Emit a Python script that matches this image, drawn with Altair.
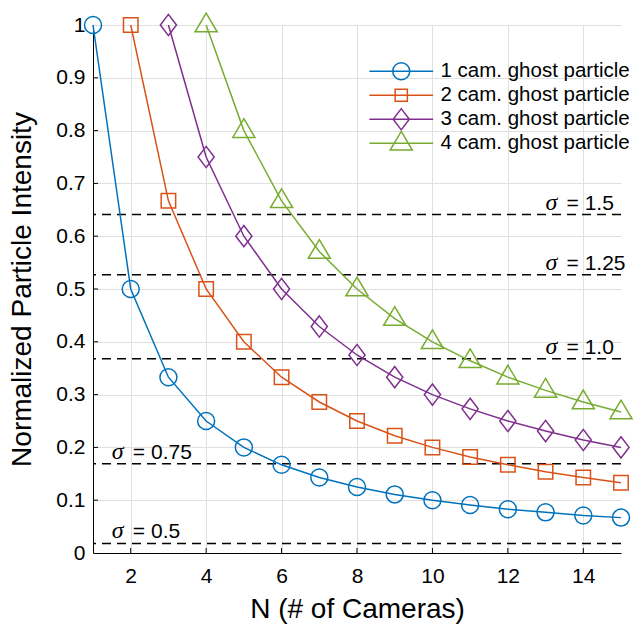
import altair as alt
import pandas as pd

series_names = ["1 cam. ghost particle", "2 cam. ghost particle",
                "3 cam. ghost particle", "4 cam. ghost particle"]
n_1 = list(range(1, 16))
v_1 = [1, 0.5, 0.333, 0.25, 0.2, 0.167, 0.143, 0.125, 0.111, 0.1, 0.091, 0.083, 0.077, 0.071, 0.067]
n_2 = list(range(2, 16))
v_2 = [1, 0.667, 0.5, 0.4, 0.333, 0.286, 0.25, 0.222, 0.2, 0.182, 0.167, 0.154, 0.143, 0.133]
n_3 = list(range(3, 16))
v_3 = [1, 0.75, 0.6, 0.5, 0.429, 0.375, 0.333, 0.3, 0.273, 0.25, 0.231, 0.214, 0.2]
n_4 = list(range(4, 16))
v_4 = [1, 0.8, 0.667, 0.571, 0.5, 0.444, 0.4, 0.364, 0.333, 0.308, 0.286, 0.267]

sigma_labels = ["1.5", "1.25", "1.0", "0.75", "0.5"]
sigma_levels = [0.641, 0.527, 0.368, 0.169, 0.018]

x_ticks = [2, 4, 6, 8, 10, 12, 14]
y_ticks = [0, 0.1, 0.2, 0.3, 0.4, 0.5, 0.6, 0.7, 0.8, 0.9, 1]

colors = ["#0072BD", "#D95319", "#7E2F8E", "#77AC30"]

rows = []
for name, ns, vs in zip(series_names, [n_1, n_2, n_3, n_4], [v_1, v_2, v_3, v_4]):
    for n, v in zip(ns, vs):
        rows.append({"series": name, "series2": name, "N": n, "I": v})
df = pd.DataFrame(rows)

sig = pd.DataFrame({"label": sigma_labels, "level": sigma_levels})
xt = pd.DataFrame({"t": x_ticks})
yt = pd.DataFrame({"t": y_ticks[1:-1]})

shape_paths = [
    "M1,0A1,1 0 1,1 -1,0A1,1 0 1,1 1,0Z",
    "M-0.85,-0.85H0.85V0.85H-0.85Z",
    "M0,-1.25L0.95,0L0,1.25L-0.95,0Z",
    "M0,-1.4L1.3,0.8L-1.3,0.8Z",
]
legend_paths = [
    "M-3.75,0H3.75M1,0A1,1 0 1,1 -1,0A1,1 0 1,1 1,0Z",
    "M-3.75,0H3.75M-0.72,-0.72H0.72V0.72H-0.72Z",
    "M-3.75,0H3.75M0,-1.25L0.95,0L0,1.25L-0.95,0Z",
    "M-3.75,0H3.75M0,-1.4L1.3,0.8L-1.3,0.8Z",
]

FONT = "Liberation Sans"

x_scale = alt.Scale(domain=[1, 15], nice=False, zero=False)
y_scale = alt.Scale(domain=[0, 1], nice=False)

x_axis = alt.Axis(values=x_ticks, title="N (# of Cameras)", grid=True, gridColor="#e0e0e0",
                  ticks=False, domainColor="black", domainWidth=1, labelFontSize=21,
                  labelPadding=12, labelColor="black", titleFontSize=28, titleColor="black",
                  titleFontWeight="normal", titlePadding=9, labelFont=FONT, titleFont=FONT)
y_axis = alt.Axis(values=y_ticks, format="~g", title="Normalized Particle Intensity", grid=True,
                  gridColor="#e0e0e0", ticks=False, domainColor="black", domainWidth=1,
                  labelFontSize=21, labelPadding=8, labelColor="black", titleFontSize=28,
                  titleColor="black", titleFontWeight="normal", titlePadding=19,
                  labelFont=FONT, titleFont=FONT)

color_scale = alt.Scale(domain=series_names, range=colors)

lines = alt.Chart(df).mark_line(strokeWidth=1.5).encode(
    x=alt.X("N:Q", scale=x_scale, axis=x_axis),
    y=alt.Y("I:Q", scale=y_scale, axis=y_axis),
    color=alt.Color("series:N", scale=color_scale, legend=None),
    detail="series:N",
)

points = alt.Chart(df).mark_point(filled=False, size=289, strokeWidth=1.5, opacity=1).encode(
    x=alt.X("N:Q", scale=x_scale),
    y=alt.Y("I:Q", scale=y_scale),
    color=alt.Color("series:N", scale=color_scale, legend=None),
    shape=alt.Shape("series:N", scale=alt.Scale(domain=series_names, range=shape_paths), legend=None),
)

legend = alt.Legend(
    title=None, orient="none", legendX=298, legendY=36, padding=0,
    symbolSize=289, symbolStrokeWidth=1.5, labelFontSize=20.5, labelFont=FONT,
    labelColor="black", labelOffset=29, rowPadding=-6, symbolOpacity=1,
    labelLimit=400, gridAlign="all",
)

legend_layer = alt.Chart(df).transform_filter("false").mark_point(
    filled=False, size=289, strokeWidth=1.5, opacity=1).encode(
    x=alt.X("N:Q", scale=x_scale),
    y=alt.Y("I:Q", scale=y_scale),
    color=alt.Color("series2:N", scale=color_scale, legend=legend),
    shape=alt.Shape("series2:N", scale=alt.Scale(domain=series_names, range=legend_paths), legend=legend),
)

rules = alt.Chart(sig).mark_rule(color="black", strokeWidth=1.5, strokeDash=[9, 6]).encode(
    y=alt.Y("level:Q", scale=y_scale),
)

xticks_m = alt.Chart(xt).mark_rule(color="black", strokeWidth=1).encode(
    x=alt.X("t:Q", scale=x_scale), y=alt.value(528), y2=alt.value(523))
yticks_m = alt.Chart(yt).mark_rule(color="black", strokeWidth=1).encode(
    y=alt.Y("t:Q", scale=y_scale), x=alt.value(0), x2=alt.value(5))

base_text = alt.Chart(sig).transform_calculate(
    xpos="datum.level > 0.3 ? 13 : 1.5",
    txt="'= ' + datum.label",
)

sigma_sym = base_text.mark_text(text="σ", font="Liberation Serif", fontStyle="italic",
                                fontSize=24, align="left", baseline="alphabetic", dy=-5,
                                color="black").encode(
    x=alt.X("xpos:Q", scale=x_scale),
    y=alt.Y("level:Q", scale=y_scale),
)
sigma_txt = base_text.mark_text(font=FONT, fontSize=21, align="left", baseline="alphabetic",
                                dx=21, dy=-5, color="black").encode(
    x=alt.X("xpos:Q", scale=x_scale),
    y=alt.Y("level:Q", scale=y_scale),
    text="txt:N",
)

chart = alt.layer(rules, xticks_m, yticks_m, lines, points, legend_layer, sigma_sym, sigma_txt).resolve_scale(
    shape="independent", color="independent"
).properties(
    width=528, height=528,
    autosize=alt.AutoSizeParams(type="none"),
    padding={"left": 93, "top": 25, "right": 21, "bottom": 75},
    background="white",
).configure_view(stroke=None)

chart.save("out.html", embed_options={"renderer": "svg", "actions": False})
